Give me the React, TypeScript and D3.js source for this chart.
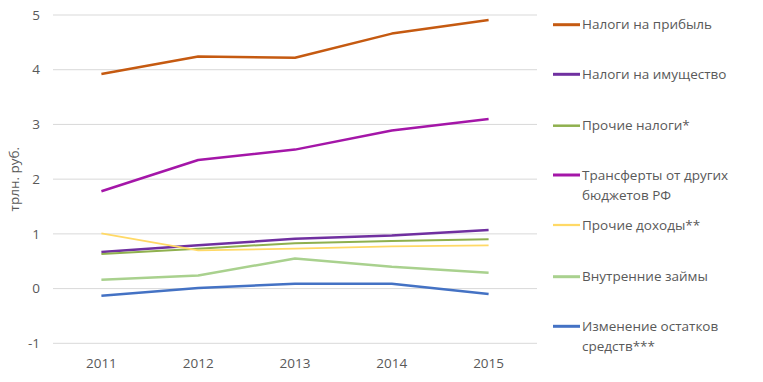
import React from "react";
import * as d3 from "d3";

const years = ["2011", "2012", "2013", "2014", "2015"];
const yTicks = [-1, 0, 1, 2, 3, 4, 5];

const profitTax = [3.92, 4.24, 4.22, 4.66, 4.91];
const propertyTax = [0.67, 0.79, 0.91, 0.97, 1.07];
const otherTax = [0.63, 0.73, 0.83, 0.87, 0.9];
const transfers = [1.78, 2.35, 2.54, 2.89, 3.1];
const otherIncome = [1.01, 0.7, 0.73, 0.77, 0.79];
const domesticLoans = [0.16, 0.24, 0.55, 0.4, 0.29];
const balanceChange = [-0.13, 0.01, 0.09, 0.09, -0.1];

const seriesNames = [
  ["Налоги на прибыль"],
  ["Налоги на имущество"],
  ["Прочие налоги*"],
  ["Трансферты от других", "бюджетов РФ"],
  ["Прочие доходы**"],
  ["Внутренние займы"],
  ["Изменение остатков", "средств***"],
];
const seriesValues = [profitTax, propertyTax, otherTax, transfers, otherIncome, domesticLoans, balanceChange];
const seriesColors = ["#C55A11", "#7030A0", "#8FB04E", "#A416A8", "#FFD966", "#A9D18E", "#4472C4"];
const seriesWidths = [2.5, 2.5, 2, 2.5, 1.75, 2.5, 2.5];

const W = 763;
const H = 382;
const font = "'Open Sans', 'Noto Sans', sans-serif";

export default function App() {
  const x = d3.scaleBand<string>().domain(years).range([53, 537]);
  const y = d3.scaleLinear().domain([-1, 5]).range([343.3, 15]);
  const line = d3
    .line<number>()
    .x((_, i) => (x(years[i]) as number) + x.bandwidth() / 2)
    .y((d) => y(d));

  const legendTop = [24.7, 74.3, 125.7, 175, 225, 276.7, 326.3];

  return (
    <svg width={W} height={H} style={{ position: "absolute", left: 0, top: 0 }} fontFamily={font}>
      <rect width={W} height={H} fill="#fff" />
      {yTicks.map((t) => (
        <g key={t}>
          <line x1={53} x2={537} y1={y(t)} y2={y(t)} stroke="#D9D9D9" strokeWidth={1} />
          <text x={40} y={y(t)} dy="0.35em" textAnchor="end" fontSize={13.5} fill="#595959">
            {t}
          </text>
        </g>
      ))}
      {years.map((yr) => (
        <text
          key={yr}
          x={(x(yr) as number) + x.bandwidth() / 2}
          y={363}
          dy="0.35em"
          textAnchor="middle"
          fontSize={13.5}
          fill="#595959"
        >
          {yr}
        </text>
      ))}
      <text
        transform={`translate(14,${y(2)}) rotate(-90)`}
        textAnchor="middle"
        dy="0.35em"
        fontSize={13.5}
        fill="#595959"
      >
        трлн. руб.
      </text>
      {seriesValues.map((vals, i) => (
        <path
          key={i}
          d={line(vals) as string}
          fill="none"
          stroke={seriesColors[i]}
          strokeWidth={seriesWidths[i]}
          strokeLinejoin="round"
        />
      ))}
      {seriesNames.map((lines, i) => (
        <g key={i}>
          <line
            x1={553}
            x2={580}
            y1={legendTop[i]}
            y2={legendTop[i]}
            stroke={seriesColors[i]}
            strokeWidth={seriesWidths[i] + 0.5}
          />
          {lines.map((t, j) => (
            <text key={j} x={582} y={legendTop[i] + j * 20} dy="0.35em" fontSize={13.5} fill="#595959">
              {t}
            </text>
          ))}
        </g>
      ))}
    </svg>
  );
}
